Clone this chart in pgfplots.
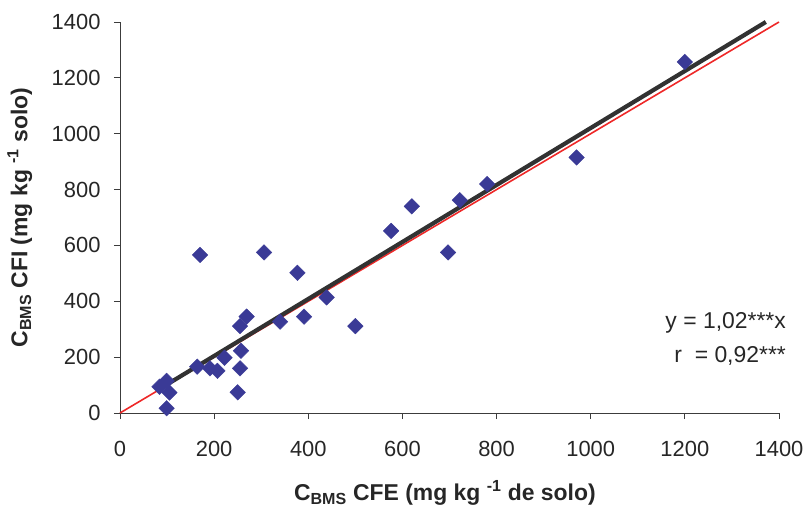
\documentclass[border=0pt]{standalone}
\usepackage{pgfplots}
\pgfplotsset{compat=1.18}
\usepackage{fontspec}
\setmainfont{Liberation Sans}
\definecolor{pt}{RGB}{58,58,150}
\definecolor{fitc}{RGB}{50,50,50}
\definecolor{redl}{RGB}{238,40,40}
\definecolor{axc}{RGB}{60,60,60}
\begin{document}
\begin{tikzpicture}
\begin{axis}[
  scale only axis,
  width=659bp, height=391bp,
  xmin=0, xmax=1400, ymin=0, ymax=1400,
  axis lines=left,
  axis line style={-, axc, line width=0.8bp},
  xtick={0,200,...,1400}, ytick={0,200,...,1400},
  tick align=outside,
  major tick length=6bp,
  tick style={axc, line width=0.8bp},
  /pgf/number format/assume math mode=true,
  /pgf/number format/1000 sep={},
  ticklabel style={font=\fontsize{22}{26}\selectfont, text=black!85},
  xticklabel style={yshift=-19bp},
  yticklabel style={xshift=-10bp},
  xlabel={\textbf{C\textsubscript{BMS} CFE (mg kg \textsuperscript{-1} de solo)}},
  ylabel={\textbf{C\textsubscript{BMS} CFI (mg kg \textsuperscript{-1} solo)}},
  label style={font=\fontsize{23}{27}\selectfont, text=black!85},
  xlabel style={at={(axis description cs:0.493,-0.205)}, anchor=center},
  ylabel style={at={(axis description cs:-0.152,0.5)}, anchor=center},
  clip=false,
]
\addplot[redl, line width=1.6bp, no marks] coordinates {(0,0) (1400,1400)};
\addplot[only marks, mark=square*, mark size=5.5bp, mark options={rotate=45, fill=pt, draw=pt}] coordinates {
(1200,1257) (970,915) (780,820) (722,762) (620,740) (576,652) (697,575)
(306,575) (170,566) (377,502) (439,414) (500,311) (391,345) (340,327)
(269,345) (255,311) (257,223) (255,160) (250,74) (222,198) (207,151)
(191,160) (164,166) (99,115) (84,94) (105,73) (99,17)
};
\addplot[fitc, line width=4.2bp, no marks] coordinates {(85,87) (1372,1400)};
\node[anchor=east, font=\fontsize{23}{27}\selectfont, text=black!85, inner sep=0pt] at (axis cs:1415,321) {y = 1,02***x};
\node[anchor=east, font=\fontsize{23}{27}\selectfont, text=black!85, inner sep=0pt] at (axis cs:1415,206) {r\ \ = 0,92***};
\end{axis}
\pgfresetboundingbox
\useasboundingbox (-120bp,-95bp) rectangle (687bp,413bp);
\end{tikzpicture}
\end{document}
